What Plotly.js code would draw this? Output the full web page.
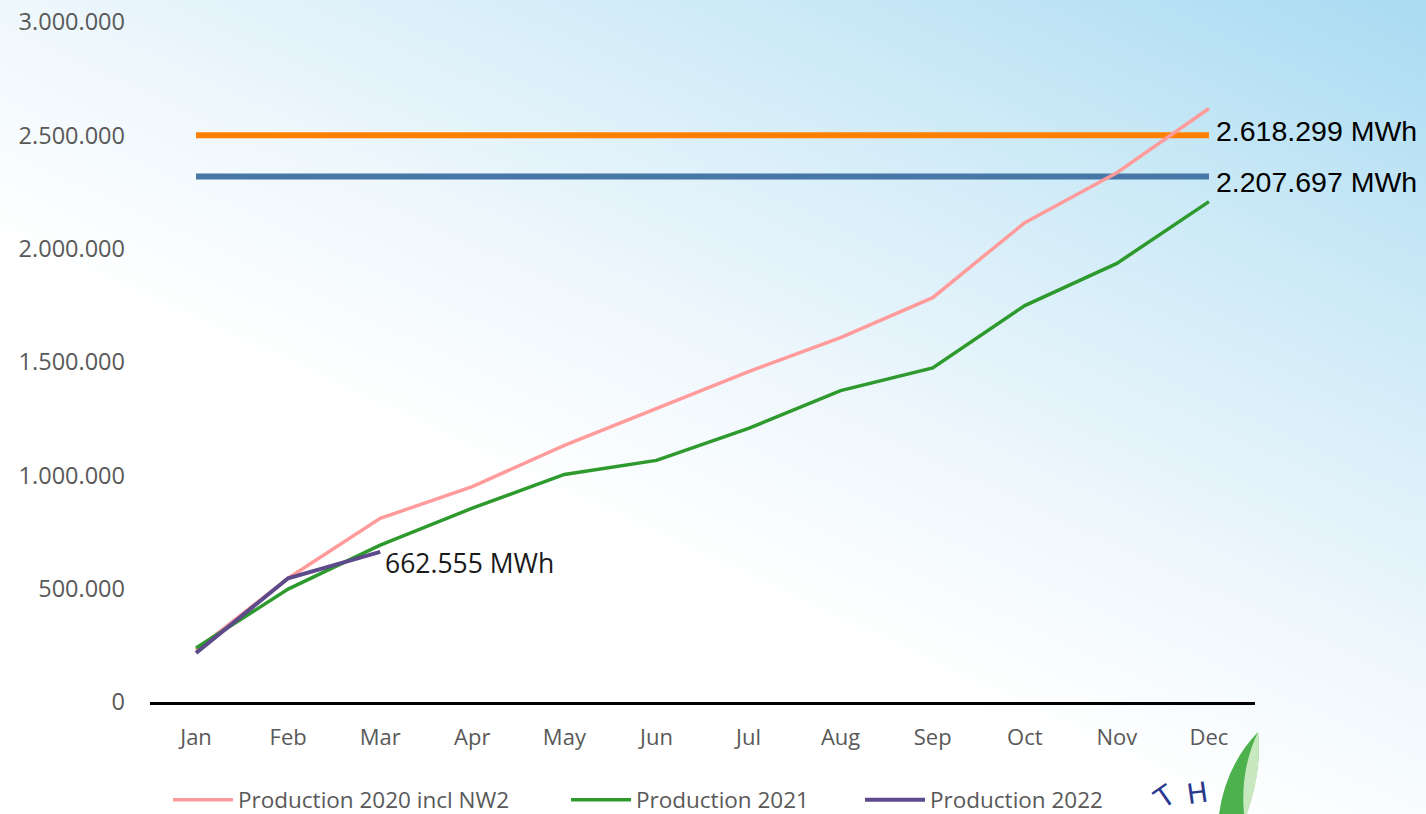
<!DOCTYPE html>
<html>
<head>
<meta charset="utf-8">
<script src="https://cdn.plot.ly/plotly-3.0.1.min.js"></script>
<style>
  html, body { margin: 0; padding: 0; width: 1426px; height: 814px; overflow: hidden; }
  body {
    background: linear-gradient(205deg, #a9dbf2 0%, #cdeaf7 22%, #eef7fc 45%, #ffffff 62%, #ffffff 100%);
  }
  #chart { width: 1426px; height: 814px; }
</style>
</head>
<body>
<div id="chart"></div>
<script>
const months = ['Jan','Feb','Mar','Apr','May','Jun','Jul','Aug','Sep','Oct','Nov','Dec'];
const prod2020 = [229000, 546000, 810000, 950000, 1132000, 1295000, 1458000, 1608000, 1784000, 2115000, 2335000, 2618299];
const prod2021 = [238000, 498000, 692000, 855000, 1004000, 1066000, 1207000, 1374000, 1474000, 1749000, 1935000, 2207697];
const months2022 = ['Jan','Feb','Mar'];
const prod2022 = [216000, 546000, 662555];
const targetX = ['Jan','Dec'];
const targetOrange = [2500000, 2500000];
const targetBlue = [2318000, 2318000];
const labels = ['2.618.299 MWh', '2.207.697 MWh', '662.555 MWh'];

const L = 150, T = 22, W = 1105, H = 680;
const px = x => (x - L) / W;
const py = y => (T + H - y) / H;
const cx = x => x / 1426;
const cy = y => (814 - y) / 814;

const traces = [
  {x: targetX, y: targetOrange, mode: 'lines', line: {color: '#FF8000', width: 6}, showlegend: false, hoverinfo: 'skip'},
  {x: targetX, y: targetBlue, mode: 'lines', line: {color: '#4677A6', width: 6}, showlegend: false, hoverinfo: 'skip'},
  {x: months, y: prod2020, name: 'Production 2020 incl NW2', mode: 'lines', line: {color: '#FF9B9B', width: 3.5}, legend: 'legend'},
  {x: months, y: prod2021, name: 'Production 2021', mode: 'lines', line: {color: '#2E9A2E', width: 3.5}, legend: 'legend2'},
  {x: months2022, y: prod2022, name: 'Production 2022', mode: 'lines', line: {color: '#5C4A8A', width: 4}, legend: 'legend3'}
];

const leaf = `M ${px(1258)} ${py(732)} Q ${px(1226)} ${py(765)} ${px(1219)} ${py(814)} L ${px(1246)} ${py(814)} Q ${px(1262)} ${py(772)} ${px(1258)} ${py(732)} Z`;
const leafLight = `M ${px(1258)} ${py(732)} Q ${px(1240)} ${py(770)} ${px(1244)} ${py(814)} L ${px(1247)} ${py(814)} Q ${px(1262)} ${py(772)} ${px(1258)} ${py(732)} Z`;

const legendFont = {family: 'Open Sans, sans-serif', size: 22.5, color: '#595959'};
function legendAt(xpx) {
  return {
    orientation: 'h', xref: 'container', yref: 'container',
    x: cx(xpx), xanchor: 'left', y: cy(800), yanchor: 'middle',
    font: legendFont, bgcolor: 'rgba(0,0,0,0)', itemwidth: 60
  };
}

const layout = {
  width: 1426, height: 814,
  margin: {l: L, r: 1426 - L - W, t: T, b: 814 - T - H, pad: 0},
  paper_bgcolor: 'rgba(0,0,0,0)',
  plot_bgcolor: 'rgba(0,0,0,0)',
  separators: ',.',
  font: {family: 'Open Sans, sans-serif', color: '#595959'},
  xaxis: {
    type: 'category', categoryorder: 'array', categoryarray: months,
    range: [-0.5, 11.5],
    showline: true, linecolor: '#000000', linewidth: 2.5,
    showgrid: false, zeroline: false, ticks: '',
    ticklabelstandoff: 14,
    tickfont: {family: 'Open Sans, sans-serif', size: 22, color: '#595959'},
    fixedrange: true, automargin: false
  },
  yaxis: {
    range: [0, 3000000], dtick: 500000, tickformat: ',d',
    showline: false, showgrid: false, zeroline: false, ticks: '',
    ticklabelstandoff: 24,
    tickfont: {family: 'Open Sans, sans-serif', size: 23.5, color: '#595959'},
    fixedrange: true, automargin: false
  },
  showlegend: true,
  legend: legendAt(168),
  legend2: legendAt(566),
  legend3: legendAt(860),
  annotations: [
    {x: 'Dec', y: targetOrange[1], xref: 'x', yref: 'y', text: labels[0], showarrow: false,
     xanchor: 'left', yanchor: 'middle', xshift: 5, yshift: 4,
     font: {family: 'Liberation Sans, Arial, sans-serif', size: 28.5, color: '#000000'}},
    {x: 'Dec', y: targetBlue[1], xref: 'x', yref: 'y', text: labels[1], showarrow: false,
     xanchor: 'left', yanchor: 'middle', xshift: 5, yshift: -5,
     font: {family: 'Liberation Sans, Arial, sans-serif', size: 28.5, color: '#000000'}},
    {x: 'Mar', y: prod2022[2], xref: 'x', yref: 'y', text: labels[2], showarrow: false,
     xanchor: 'left', yanchor: 'middle', xshift: 3, yshift: -11,
     font: {family: 'Open Sans, sans-serif', size: 26.5, color: '#1a1a1a'}},
    {x: px(1185), y: py(818), xref: 'paper', yref: 'paper', text: 'T', showarrow: false,
     textangle: -35, font: {family: 'DejaVu Sans, sans-serif', size: 28, color: '#2A3A8F'}},
    {x: px(1212), y: py(814), xref: 'paper', yref: 'paper', text: 'H', showarrow: false,
     textangle: -8, font: {family: 'DejaVu Sans, sans-serif', size: 28, color: '#2A3A8F'}}
  ],
  shapes: [
    {type: 'path', xref: 'paper', yref: 'paper', path: leaf, fillcolor: '#4DB24D', line: {width: 0}, layer: 'above'},
    {type: 'path', xref: 'paper', yref: 'paper', path: leafLight, fillcolor: '#C8E8C0', line: {width: 0}, layer: 'above'}
  ]
};

Plotly.newPlot('chart', traces, layout, {displayModeBar: false, staticPlot: true});
</script>
</body>
</html>
